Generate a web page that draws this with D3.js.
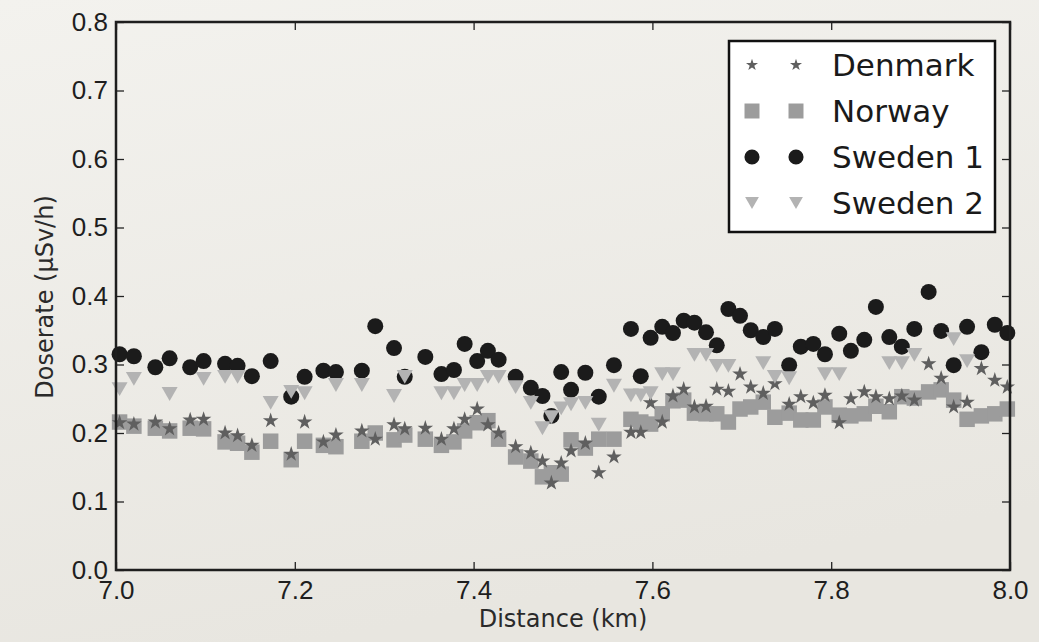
<!DOCTYPE html>
<html>
<head>
<meta charset="utf-8">
<script src="https://cdnjs.cloudflare.com/ajax/libs/d3/7.8.5/d3.min.js"></script>
<style>
body { margin: 0; background: #efeee9; }
svg { display: block; font-family: "DejaVu Sans", sans-serif; }
</style>
</head>
<body>
<svg id="chart" width="1039" height="642"></svg>
<script>
// distance along the route (km), shared by all four instruments
const distance = [7.004,7.020,7.044,7.060,7.083,7.098,7.122,7.136,7.152,7.173,
    7.196,7.211,7.232,7.246,7.275,7.290,7.311,7.323,7.346,7.364,
    7.378,7.390,7.404,7.416,7.428,7.447,7.464,7.477,7.487,7.498,
    7.509,7.525,7.540,7.557,7.576,7.587,7.598,7.611,7.623,7.635,
    7.647,7.660,7.672,7.685,7.698,7.710,7.724,7.737,7.753,7.766,
    7.780,7.793,7.809,7.822,7.837,7.850,7.865,7.879,7.893,7.909,
    7.923,7.937,7.952,7.968,7.983,7.997];

const denmark = [0.215,0.213,0.216,0.206,0.219,0.220,0.200,0.196,0.182,0.218,
    0.169,0.216,0.187,0.197,0.203,0.191,0.212,0.206,0.207,0.191,
    0.206,0.220,0.235,0.212,0.200,0.180,0.171,0.159,0.127,0.156,
    0.174,0.185,0.142,0.165,0.201,0.201,0.244,0.216,0.254,0.264,
    0.238,0.239,0.264,0.261,0.286,0.267,0.258,0.272,0.242,0.253,
    0.244,0.255,0.215,0.250,0.260,0.253,0.250,0.254,0.248,0.301,
    0.280,0.238,0.245,0.294,0.277,0.267];

const norway = [0.216,0.210,0.207,0.203,0.207,0.206,0.187,0.185,0.172,0.188,
    0.161,0.188,0.182,0.180,0.188,0.200,0.190,0.197,0.191,0.182,
    0.187,0.203,0.215,0.218,0.191,0.165,0.159,0.136,0.142,0.140,
    0.190,0.178,0.191,0.191,0.220,0.216,0.213,0.228,0.247,0.248,
    0.229,0.228,0.228,0.216,0.235,0.238,0.245,0.223,0.229,0.219,
    0.219,0.238,0.226,0.225,0.228,0.239,0.231,0.253,0.251,0.260,
    0.263,0.248,0.220,0.225,0.228,0.235];

const sweden1 = [0.315,0.312,0.296,0.309,0.296,0.305,0.301,0.298,0.283,0.305,
    0.253,0.282,0.291,0.289,0.291,0.356,0.324,0.282,0.311,0.286,
    0.292,0.330,0.305,0.320,0.307,0.282,0.266,0.254,0.225,0.289,
    0.263,0.288,0.253,0.299,0.352,0.283,0.339,0.355,0.346,0.364,
    0.361,0.347,0.328,0.381,0.371,0.350,0.340,0.352,0.299,0.326,
    0.330,0.315,0.345,0.320,0.336,0.384,0.340,0.326,0.352,0.406,
    0.349,0.299,0.355,0.318,0.358,0.346];

const sweden2 = [0.264,0.279,null,0.257,null,0.279,0.282,0.282,null,0.244,
    0.260,0.258,null,0.270,0.270,null,0.254,0.282,null,0.258,
    0.258,0.270,0.270,0.282,0.282,0.267,0.244,0.207,0.223,0.236,
    0.242,0.244,0.212,0.269,0.255,0.255,0.258,0.286,0.286,null,
    0.314,0.314,0.298,0.298,null,null,0.302,0.282,0.280,null,
    null,0.286,0.286,null,null,null,0.302,0.302,0.314,null,
    null,0.337,0.305,null,null,null];

const xTicks = [7.0, 7.2, 7.4, 7.6, 7.8, 8.0];
const yTicks = [0.0, 0.1, 0.2, 0.3, 0.4, 0.5, 0.6, 0.7, 0.8];

// downward triangle centred on its bounding box (like matplotlib 'v')
const triangleDown = {
    draw(ctx, size) {
        let w = Math.sqrt(size);
        let h = w * 0.866;
        ctx.moveTo(-w / 2, -h / 2);
        ctx.lineTo(w / 2, -h / 2);
        ctx.lineTo(0, h / 2);
        ctx.closePath();
    }
};

const series = [
    { name: "Denmark",  values: denmark, type: d3.symbolStar,   size: 75,  legendSize: 45,  color: "#5f5f5f" },
    { name: "Norway",   values: norway,  type: d3.symbolSquare, size: 240, legendSize: 225, color: "#9c9c9c" },
    { name: "Sweden 1", values: sweden1, type: d3.symbolCircle, size: 201, legendSize: 180, color: "#1b1b1b" },
    { name: "Sweden 2", values: sweden2, type: triangleDown,    size: 256, legendSize: 190, color: "#b3b3b3" }
];
// drawing order seen in the picture: squares under stars, circles under triangles
const drawOrder = ["Norway", "Denmark", "Sweden 1", "Sweden 2"];

const svg = d3.select("#chart");

// paper-like background
let defs = svg.append("defs");
let grad = defs.append("linearGradient").attr("id", "bg")
    .attr("x1", 0).attr("y1", 0).attr("x2", 0.3).attr("y2", 1);
grad.append("stop").attr("offset", "0%").attr("stop-color", "#f3f2ee");
grad.append("stop").attr("offset", "100%").attr("stop-color", "#e8e6e0");
svg.append("rect").attr("width", 1039).attr("height", 642).attr("fill", "url(#bg)");

const x = d3.scaleLinear().domain([7, 8]).range([116, 1010]);
const y = d3.scaleLinear().domain([0, 0.8]).range([570, 22]);

// points
drawOrder.forEach(name => {
    let s = series.find(e => e.name === name);
    let pts = distance.map((d, i) => ({ d: d, v: s.values[i] })).filter(p => p.v !== null);
    svg.append("g").selectAll("path")
        .data(pts)
        .join("path")
        .attr("transform", p => `translate(${x(p.d)},${y(p.v)})`)
        .attr("d", d3.symbol().type(s.type).size(s.size))
        .attr("fill", s.color);
});

// axes with inward ticks on all four sides
const fmt = d3.format(".1f");
function styleAxis(g) {
    g.select(".domain").remove();
    g.selectAll(".tick line").attr("stroke", "#222").attr("stroke-width", 1.3);
    g.selectAll("text").attr("fill", "#1e1e1e").attr("font-size", 26);
}
svg.append("g").attr("transform", `translate(0,${y(0)})`)
    .call(d3.axisBottom(x).tickValues(xTicks).tickFormat(fmt).tickSize(-8).tickPadding(11))
    .call(styleAxis);
svg.append("g").attr("transform", `translate(0,${y(0.8)})`)
    .call(d3.axisTop(x).tickValues(xTicks).tickFormat("").tickSize(-8))
    .call(styleAxis);
svg.append("g").attr("transform", `translate(${x(7)},0)`)
    .call(d3.axisLeft(y).tickValues(yTicks).tickFormat(fmt).tickSize(-8).tickPadding(8))
    .call(styleAxis);
svg.append("g").attr("transform", `translate(${x(8)},0)`)
    .call(d3.axisRight(y).tickValues(yTicks).tickFormat("").tickSize(-8))
    .call(styleAxis);

// frame
svg.append("rect")
    .attr("x", x(7)).attr("y", y(0.8))
    .attr("width", x(8) - x(7)).attr("height", y(0) - y(0.8))
    .attr("fill", "none").attr("stroke", "#1e1e1e").attr("stroke-width", 2.5);

// axis titles
svg.append("text")
    .attr("x", 563).attr("y", 627)
    .attr("text-anchor", "middle").attr("font-size", 24).attr("fill", "#2a2a2a")
    .text("Distance (km)");
svg.append("text")
    .attr("transform", "translate(53,297) rotate(-90)")
    .attr("text-anchor", "middle").attr("font-size", 24).attr("fill", "#2a2a2a")
    .text("Doserate (µSv/h)");

// legend
let legend = svg.append("g");
legend.append("rect")
    .attr("x", 729).attr("y", 41).attr("width", 266).attr("height", 191)
    .attr("fill", "#ffffff").attr("stroke", "#111").attr("stroke-width", 2.5);
series.forEach((s, i) => {
    let cy = 65 + i * 46;
    [752, 796].forEach(cx => {
        legend.append("path")
            .attr("transform", `translate(${cx},${cy})`)
            .attr("d", d3.symbol().type(s.type).size(s.legendSize))
            .attr("fill", s.color);
    });
    legend.append("text")
        .attr("x", 832).attr("y", cy + 11)
        .attr("font-size", 31).attr("fill", "#1a1a1a")
        .text(s.name);
});
</script>
</body>
</html>
